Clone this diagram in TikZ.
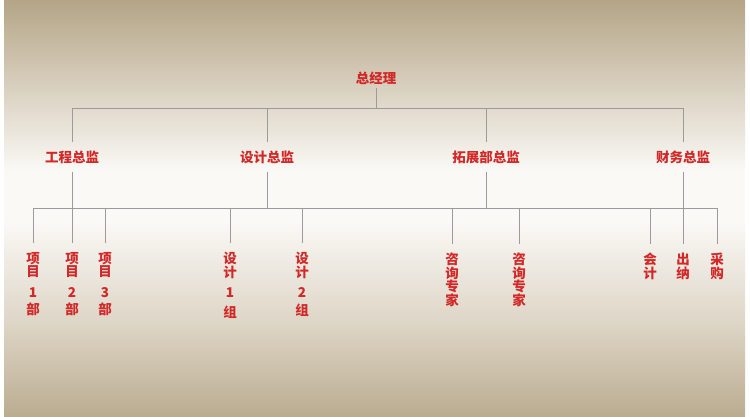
\documentclass[tikz,border=0pt]{standalone}
\usepackage{fontspec}
\setmainfont{Noto Sans CJK SC}
\usetikzlibrary{positioning}

\definecolor{chartred}{RGB}{210,40,40}
\definecolor{linegray}{RGB}{155,155,155}
\definecolor{toptan}{RGB}{180,165,135}
\definecolor{midtan}{RGB}{222,214,199}
\definecolor{bottomtan}{RGB}{186,172,144}
\definecolor{paleground}{RGB}{250,249,246}

% stops between 25bp (bottom edge) and 75bp (top edge)
\pgfdeclareverticalshading{pagebg}{100bp}{color(0bp)=(bottomtan); color(25bp)=(bottomtan); color(36.5bp)=(midtan); color(48.5bp)=(paleground); color(54.5bp)=(paleground); color(63bp)=(midtan); color(75bp)=(toptan); color(100bp)=(toptan)}

\tikzset{
  head/.style={text=chartred, font=\fontsize{13.5}{14}\selectfont\bfseries, inner sep=0pt, minimum height=29pt},
  leaf/.style={text=chartred, font=\fontsize{13.5}{13.5}\selectfont\bfseries, align=center, inner sep=0pt, anchor=north},
  link/.style={draw=linegray, line width=0.8pt},
}

\begin{document}
\begin{tikzpicture}[x=1pt, y=-1pt]
    % Background
    \fill[white] (0,0) rectangle (750,417);
    \shade[shading=pagebg] (4,0) rectangle (745,417);

    % Draw nodes
    \node[head, minimum height=20pt] (boss) at (376,78) {总经理};
    \node[head] (gc) at (72,157) {工程总监};
    \node[head] (sj) at (267,157) {设计总监};
    \node[head] (tz) at (486,157) {拓展部总监};
    \node[head] (cw) at (683,157) {财务总监};

    \node[leaf] (p1) at (33,252) {项\\目\\[7pt]1\\[4pt]部};
    \node[leaf] (p2) at (72,252) {项\\目\\[7pt]2\\[4pt]部};
    \node[leaf] (p3) at (105,252) {项\\目\\[7pt]3\\[4pt]部};
    \node[leaf] (d1) at (230,252) {设\\计\\[7pt]1\\[6pt]组};
    \node[leaf] (d2) at (302,252) {设\\计\\[7pt]2\\[4pt]组};
    \node[leaf] (z1) at (452,253) {咨\\询\\专\\家};
    \node[leaf] (z2) at (519,253) {咨\\询\\专\\家};
    \node[leaf] (kj) at (650,253) {会\\计};
    \node[leaf] (cn) at (683,253) {出\\纳};
    \node[leaf] (cg) at (717,253) {采\\购};

    \coordinate (bar1) at (376,108);
    \coordinate (bar2) at (376,208);

    % Draw edges
    \draw[link] (boss) -- (bar1);
    \foreach \d in {gc,sj,tz,cw}
        \draw[link] (bar1) -| (\d);
    \foreach \d in {gc,sj,tz,cw}
        \draw[link] (\d) -- (\d |- bar2);
    \draw[link] (p1 |- bar2) -- (cg |- bar2);
    \foreach \l in {p1,p2,p3,d1,d2,z1,z2,kj,cn,cg}
        \draw[link, shorten <=9pt] (\l.north) -- (\l |- bar2);
\end{tikzpicture}
\end{document}
